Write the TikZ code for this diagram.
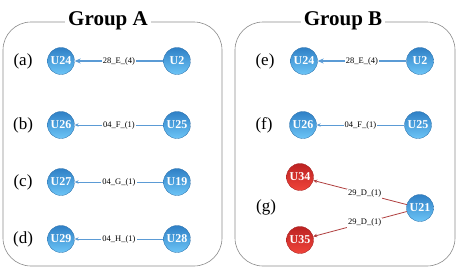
\documentclass[tikz,border=0pt]{standalone}
\usepackage{fontspec}
\setmainfont{Liberation Serif}
\usetikzlibrary{arrows.meta}
\definecolor{edgeblue}{HTML}{5B9BD5}
\definecolor{edgered}{HTML}{B04040}
\definecolor{nbtop}{HTML}{2F80C6}
\definecolor{nbbot}{HTML}{6CC4F6}
\definecolor{nrtop}{HTML}{BC2222}
\definecolor{nrbot}{HTML}{F0443A}
\definecolor{boxgray}{HTML}{8A8A8A}
\tikzset{
  unode/.style={circle, minimum size=27pt, inner sep=0pt, top color=nbtop, bottom color=nbbot, draw=nbtop!85!black, line width=0.3pt, text=white, font=\fontsize{12}{12}\selectfont\bfseries},
  rnode/.style={unode, top color=nrtop, bottom color=nrbot, draw=nrtop!85!black},
  grpbox/.style={draw=boxgray, line width=0.6pt, rounded corners=28pt},
  grptitle/.style={fill=white, inner sep=3pt, font=\fontsize{21}{21}\selectfont\bfseries},
  rowlabel/.style={font=\fontsize{17}{17}\selectfont},
  elabel/.style={fill=white, inner sep=1pt, font=\fontsize{8.5}{8.5}\selectfont},
  thickedge/.style={draw=edgeblue, line width=1.4pt, -{Stealth[length=6pt,width=5pt]}},
  thinedge/.style={draw=edgeblue, line width=0.8pt, -{Stealth[length=4pt,width=3.5pt]}},
  rededge/.style={draw=edgered, line width=0.8pt, -{Stealth[length=4pt,width=3.5pt]}},
}
\begin{document}
\begin{tikzpicture}[x=1pt,y=-1pt]
\useasboundingbox (0,0) rectangle (457,269);
% group boxes
\draw[grpbox] (3,22) rectangle (222,266);
\draw[grpbox] (235,22) rectangle (455,266);
\node[grptitle] (ta) at (108,21) {Group A};
\node[grptitle] (tb) at (343,21) {Group B};
% Group A
\node[rowlabel] (la) at (23,61) {(a)};
\node[rowlabel] (lb) at (23,125) {(b)};
\node[rowlabel] (lc) at (23,182) {(c)};
\node[rowlabel] (ld) at (23,239) {(d)};
\node[unode] (a1) at (61,61) {U24};
\node[unode] (a2) at (177,61) {U2};
\node[unode] (b1) at (61,125) {U26};
\node[unode] (b2) at (177,125) {U25};
\node[unode] (c1) at (61,182) {U27};
\node[unode] (c2) at (177,182) {U19};
\node[unode] (d1) at (61,239) {U29};
\node[unode] (d2) at (177,239) {U28};
\draw[thickedge] (a2) -- node[elabel] (ea) {28\_E\_(4)} (a1);
\draw[thinedge] (b2) -- node[elabel] (eb) {04\_F\_(1)} (b1);
\draw[thinedge] (c2) -- node[elabel] (ec) {04\_G\_(1)} (c1);
\draw[thinedge] (d2) -- node[elabel] (ed) {04\_H\_(1)} (d1);
% Group B
\node[rowlabel] (le) at (265,61) {(e)};
\node[rowlabel] (lf) at (264,125) {(f)};
\node[rowlabel] (lg) at (266,207) {(g)};
\node[unode] (e1) at (304,61) {U24};
\node[unode] (e2) at (420,61) {U2};
\node[unode] (f1) at (303,125) {U26};
\node[unode] (f2) at (418,125) {U25};
\node[rnode] (g1) at (300,177) {U34};
\node[rnode] (g2) at (300,240) {U35};
\node[unode] (g0) at (420,208) {U21};
\draw[thickedge] (e2) -- node[elabel] (ee) {28\_E\_(4)} (e1);
\draw[thinedge] (f2) -- node[elabel] (ef) {04\_F\_(1)} (f1);
\draw[rededge] (g0) -- node[elabel, pos=0.45] (eg1) {29\_D\_(1)} (g1);
\draw[rededge] (g0) -- node[elabel, pos=0.45] (eg2) {29\_D\_(1)} (g2);
\end{tikzpicture}
\end{document}
